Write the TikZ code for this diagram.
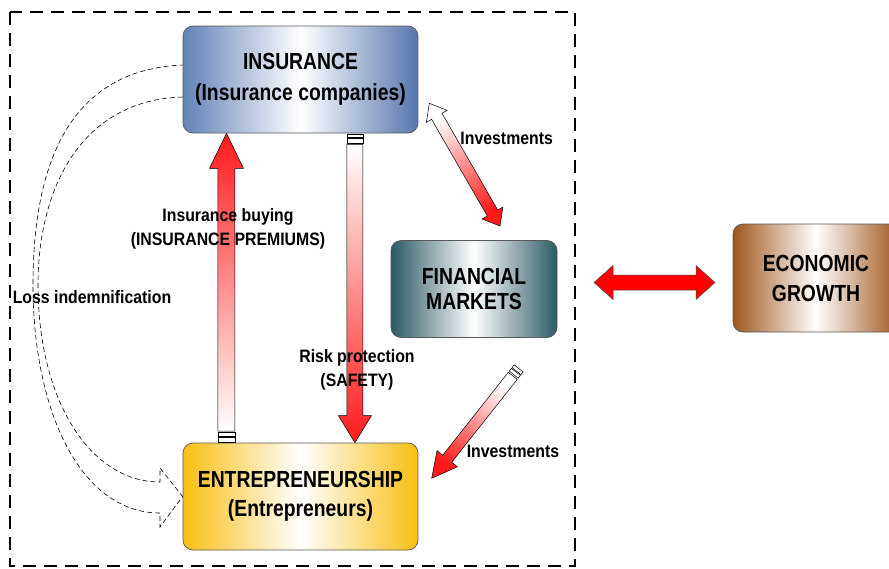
\documentclass[tikz,border=0pt]{standalone}
\usepackage{fontspec}
\setmainfont{Liberation Sans}[FakeStretch=0.88]
\newfontfamily\boxfamily{Liberation Sans}[FakeStretch=0.83]
\usetikzlibrary{calc}

\definecolor{insblueL}{HTML}{6282B7}
\definecolor{insblueR}{HTML}{5676AC}
\definecolor{entgold}{HTML}{F8BE12}
\definecolor{finteal}{HTML}{2B5A63}
\definecolor{ecobrown}{HTML}{A0561C}
\definecolor{arrowred}{HTML}{FF1A1A}

\tikzset{
  box/.style={rounded corners=10pt, draw=black!65, line width=0.7pt,
    inner sep=0pt, align=center, text=black},
  boxfont/.style={font=\boxfamily\fontsize{23.3}{#1}\selectfont\bfseries},
  lbl/.style={font=\fontsize{18}{24}\selectfont\bfseries, align=center, inner sep=0pt},
  arrowline/.style={draw=black, line width=0.5pt},
  stripebox/.style={draw=black, line width=0.5pt, fill=white},
  lossline/.style={draw=black, line width=0.6pt, dash pattern=on 5pt off 3pt},
  framebox/.style={draw=black, line width=1.8pt, dash pattern=on 13pt off 8pt}
}

% block arrow: options, tail, tip, half shaft width, half head width, head length
\newcommand\blockarrow[6]{%
  \coordinate (bah) at ($(#3)!#6!(#2)$);
  \path[#1] ($(#2)!#4!90:(#3)$) -- ($(bah)!#4!-90:(#2)$) -- ($(bah)!#5!-90:(#2)$)
    -- (#3) -- ($(bah)!#5!90:(#2)$) -- ($(bah)!#4!90:(#2)$)
    -- ($(#2)!#4!-90:(#3)$) -- cycle;
}
% double headed block arrow: options, end A, end B, half shaft, half head, head length
\newcommand\dblarrow[6]{%
  \coordinate (daA) at ($(#2)!#6!(#3)$);
  \coordinate (daB) at ($(#3)!#6!(#2)$);
  \path[#1] (#2) -- ($(daA)!#5!90:(#3)$) -- ($(daA)!#4!90:(#3)$)
    -- ($(daB)!#4!-90:(#2)$) -- ($(daB)!#5!-90:(#2)$) -- (#3)
    -- ($(daB)!#5!90:(#2)$) -- ($(daB)!#4!90:(#2)$)
    -- ($(daA)!#4!-90:(#3)$) -- ($(daA)!#5!-90:(#3)$) -- cycle;
}
% small band across an arrow end: options, end, direction point, from, to, half width
\newcommand\stripe[6]{%
  \coordinate (stA) at ($(#2)!#4!(#3)$);
  \coordinate (stB) at ($(#2)!#5!(#3)$);
  \path[#1] ($(stA)!#6!90:(#3)$) -- ($(stB)!#6!90:(#3)$)
    -- ($(stB)!#6!-90:(#3)$) -- ($(stA)!#6!-90:(#3)$) -- cycle;
}

\begin{document}
\begin{tikzpicture}[x=1pt, y=-1pt]
\useasboundingbox (0,0) rectangle (889,568);
\clip (0,0) rectangle (889,568);

% dashed frame around the insurance system
\draw[framebox] (10,12) rectangle (575,566);

% boxes
\node[box, boxfont=31, minimum width=235pt, minimum height=107pt,
  left color=insblueL, right color=insblueR, middle color=white]
  (ins) at (300.5,79.5) {INSURANCE\\(Insurance companies)};
\node[box, boxfont=28.5, minimum width=235pt, minimum height=107pt,
  left color=entgold, right color=entgold, middle color=white]
  (ent) at (300.5,496.5) {ENTREPRENEURSHIP\\(Entrepreneurs)};
\node[box, boxfont=25, minimum width=166pt, minimum height=97pt,
  left color=finteal, right color=finteal, middle color=white]
  (fin) at (474,289) {FINANCIAL\\MARKETS};
\node[box, boxfont=30, minimum width=166pt, minimum height=108pt,
  left color=ecobrown, right color=ecobrown, middle color=white]
  (eco) at (816,278) {ECONOMIC\\GROWTH};

% loss indemnification: dashed curved block arrow
\coordinate (lossOut) at ($(ins.west)+(0,-14.5)$);
\coordinate (lossIn) at ($(ins.west)+(0,17.5)$);
\draw[lossline] (lossIn) .. controls (80,100) and (38,190) .. (38,285)
  .. controls (38,400) and (90,482) .. (160,482) -- (160,468) -- (ent.west)
  -- (160,527) -- (160,513) .. controls (80,513) and (33,410) .. (33,285)
  .. controls (33,180) and (60,70) .. (lossOut);

% insurance buying (premiums)
\coordinate (buyEnd) at ($(ent.north west)!0.186!(ent.north east)$);
\coordinate (buyTip) at ($(ins.south west)!0.186!(ins.south east)$);
\coordinate (buyTail) at ($(buyEnd)!11.5pt!(buyTip)$);
\stripe{stripebox}{buyEnd}{buyTip}{0.5pt}{5pt}{8.5pt}
\stripe{stripebox}{buyEnd}{buyTip}{6pt}{10.5pt}{8.5pt}
\blockarrow{arrowline, top color=arrowred, bottom color=white}{buyTail}{buyTip}{8.5pt}{17pt}{35pt}

% risk protection (safety)
\coordinate (riskEnd) at ($(ins.south west)!0.731!(ins.south east)$);
\coordinate (riskTip) at ($(ent.north west)!0.731!(ent.north east)$);
\coordinate (riskTail) at ($(riskEnd)!11pt!(riskTip)$);
\stripe{stripebox}{riskEnd}{riskTip}{0.5pt}{3.5pt}{8pt}
\stripe{stripebox}{riskEnd}{riskTip}{4.5pt}{9.5pt}{8pt}
\blockarrow{arrowline, top color=white, bottom color=arrowred}{riskTail}{riskTip}{8pt}{16.5pt}{27pt}

% investments: insurance <-> financial markets
\coordinate (invA) at (429.3,103.3);
\coordinate (invB) at (500,226);
\dblarrow{arrowline, top color=arrowred, bottom color=white, shading angle=-150}{invA}{invB}{6pt}{12pt}{15pt}

% investments: financial markets -> entrepreneurship
\coordinate (inv2End) at (519,368);
\coordinate (inv2Tip) at (431.7,478.3);
\coordinate (inv2Tail) at ($(inv2End)!10pt!(inv2Tip)$);
\stripe{stripebox}{inv2End}{inv2Tip}{0.5pt}{4pt}{5.7pt}
\stripe{stripebox}{inv2End}{inv2Tip}{5pt}{8.5pt}{5.7pt}
\blockarrow{arrowline, top color=arrowred, bottom color=white, shading angle=141.6}{inv2Tail}{inv2Tip}{5.7pt}{13pt}{25pt}

% financial markets <-> economic growth
\coordinate (grA) at (594,282.5);
\coordinate (grB) at (715,282.5);
\dblarrow{draw=black!70, line width=0.5pt, fill=red}{grA}{grB}{7.5pt}{17pt}{19pt}

% labels
\node[lbl] (lblInv1) at (506.7,138) {Investments};
\node[lbl] (lblBuy) at (228,229) {Insurance buying\\(INSURANCE PREMIUMS)};
\node[lbl] (lblRisk) at (357,370) {Risk protection\\(SAFETY)};
\node[lbl] (lblLoss) at (92,297) {Loss indemnification};
\node[lbl] (lblInv2) at (513,451.7) {Investments};
\end{tikzpicture}
\end{document}
